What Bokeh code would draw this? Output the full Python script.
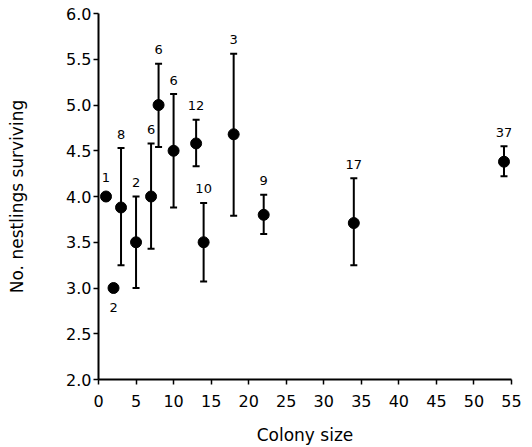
from bokeh.plotting import figure
from bokeh.models import ColumnDataSource, Whisker, TeeHead, FixedTicker, Range1d, PrintfTickFormatter
from bokeh.core.properties import value
from bokeh.embed import file_html
from bokeh.resources import INLINE

# ---- data ----
colony_size = [1, 2, 3, 5, 7, 8, 10, 13, 14, 18, 22, 34, 54]
mean_surv   = [4.0, 3.0, 3.88, 3.5, 4.0, 5.0, 4.5, 4.58, 3.5, 4.68, 3.80, 3.71, 4.38]
err_low     = [None, None, 3.25, 3.0, 3.43, 4.54, 3.88, 4.33, 3.07, 3.79, 3.59, 3.25, 4.22]
err_high    = [None, None, 4.53, 4.0, 4.58, 5.45, 5.12, 4.84, 3.93, 5.56, 4.02, 4.20, 4.55]
n_labels    = ["1", "2", "8", "2", "6", "6", "6", "12", "10", "3", "9", "17", "37"]
label_below = [False, True, False, False, False, False, False, False, False, False, False, False, False]
x_ticks = [0, 5, 10, 15, 20, 25, 30, 35, 40, 45, 50, 55]
y_ticks = [2.0, 2.5, 3.0, 3.5, 4.0, 4.5, 5.0, 5.5, 6.0]

FONT = "DejaVu Sans"

p = figure(width=532, height=447, x_range=Range1d(0, 55), y_range=Range1d(2, 6),
           output_backend="svg", toolbar_location=None,
           min_border_left=98, min_border_right=21, min_border_top=13, min_border_bottom=67)
p.grid.visible = False
p.outline_line_color = None
p.background_fill_color = "white"
p.border_fill_color = "white"

# error bars
idx = [i for i in range(len(colony_size)) if err_low[i] is not None]
err_src = ColumnDataSource(dict(
    x=[colony_size[i] for i in idx],
    lo=[err_low[i] for i in idx],
    hi=[err_high[i] for i in idx],
))
w = Whisker(source=err_src, base="x", lower="lo", upper="hi",
            line_color="black", line_width=2,
            upper_head=TeeHead(size=7, line_width=2, line_color="black"),
            lower_head=TeeHead(size=7, line_width=2, line_color="black"))
p.add_layout(w)

# points
p.scatter(colony_size, mean_surv, size=11, marker="circle", fill_color="black", line_color="black")

# sample-size labels
lab_y, lab_off = [], []
for i in range(len(colony_size)):
    if err_high[i] is not None:
        lab_y.append(err_high[i]); lab_off.append(-14)
    elif label_below[i]:
        lab_y.append(mean_surv[i]); lab_off.append(19)
    else:
        lab_y.append(mean_surv[i]); lab_off.append(-19)
lab_src = ColumnDataSource(dict(x=colony_size, y=lab_y, t=n_labels, off=lab_off))
p.text(x="x", y="y", text="t", y_offset="off", source=lab_src,
       text_align="center", text_baseline="middle",
       text_font=value(FONT), text_font_size="13px", text_color="black")

for ax in (p.xaxis[0], p.yaxis[0]):
    ax.axis_line_width = 2
    ax.axis_line_color = "black"
    ax.major_tick_line_width = 1.5
    ax.major_tick_line_color = "black"
    ax.major_tick_in = 0
    ax.major_tick_out = 5
    ax.minor_tick_line_color = None
    ax.major_label_text_font = FONT
    ax.major_label_text_font_size = "16px"
    ax.major_label_text_color = "black"
    ax.axis_label_text_font = FONT
    ax.axis_label_text_font_size = "17px"
    ax.axis_label_text_font_style = "normal"
    ax.axis_label_text_color = "black"

p.xaxis.ticker = FixedTicker(ticks=x_ticks)
p.yaxis.ticker = FixedTicker(ticks=y_ticks)
p.yaxis.formatter = PrintfTickFormatter(format="%.1f")
p.xaxis.axis_label = "Colony size"
p.yaxis.axis_label = "No. nestlings surviving"
p.xaxis.major_label_standoff = 10
p.xaxis.axis_label_standoff = 15
p.yaxis.major_label_standoff = 2
p.yaxis.axis_label_standoff = 36

open("out.html", "w").write(file_html(p, INLINE))
